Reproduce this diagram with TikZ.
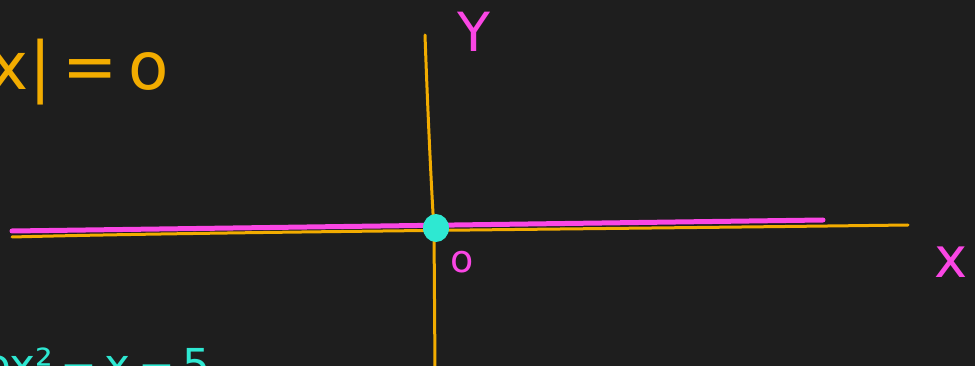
\documentclass[tikz,border=0pt]{standalone}
\usepackage{fontspec}
\setmainfont{DejaVu Sans}
\begin{document}
\begin{tikzpicture}[x=1pt,y=-1pt,
  axis/.style={draw=axisorange,line width=3pt,line cap=round},
  pinkline/.style={draw=penpink,line width=5pt,line cap=round},
  lbl/.style={inner sep=0pt,outer sep=0pt}]
\definecolor{board}{RGB}{30,30,30}
\definecolor{axisorange}{RGB}{242,172,0}
\definecolor{penpink}{RGB}{250,70,228}
\definecolor{pencyan}{RGB}{46,232,210}
\useasboundingbox (0,0) rectangle (975,366);
\fill[board] (0,0) rectangle (975,366);
% axes
\coordinate (xl) at (12,237);
\coordinate (xr) at (908,225);
\coordinate (yt) at (425,35);
\coordinate (yb) at (435,370);
\coordinate (o) at (434,229);
\draw[axis] (xl) .. controls (200,232) and (600,229) .. (xr);
\draw[axis] (yt) .. controls (428,120) and (432,200) .. (o) -- (yb);
% pink line on x-axis
\coordinate (pl) at (12,231);
\coordinate (pr) at (823,220);
\draw[pinkline] (pl) -- (pr);
% cyan point at origin
\coordinate (dot) at (436,228);
\fill[pencyan] (dot) ellipse (13pt and 14pt);
% labels
\node[lbl,text=penpink,font=\fontsize{38}{38}\selectfont] (lo) at (462,262) {o};
\node[lbl,text=penpink,font=\fontsize{54}{54}\selectfont] (ly) at (474,32) {Y};
\node[lbl,text=penpink,font=\fontsize{56}{56}\selectfont,anchor=west] (lx) at (934,262) {x};
\node[lbl,text=axisorange,font=\fontsize{66}{66}\selectfont,anchor=west] (eq1) at (-10,72) {x|\,=\,o};
\node[lbl,text=pencyan,font=\fontsize{44}{44}\selectfont,anchor=west] (eq2) at (-16,364) {ox²\,−\,x\,−\,5};
\end{tikzpicture}
\end{document}
